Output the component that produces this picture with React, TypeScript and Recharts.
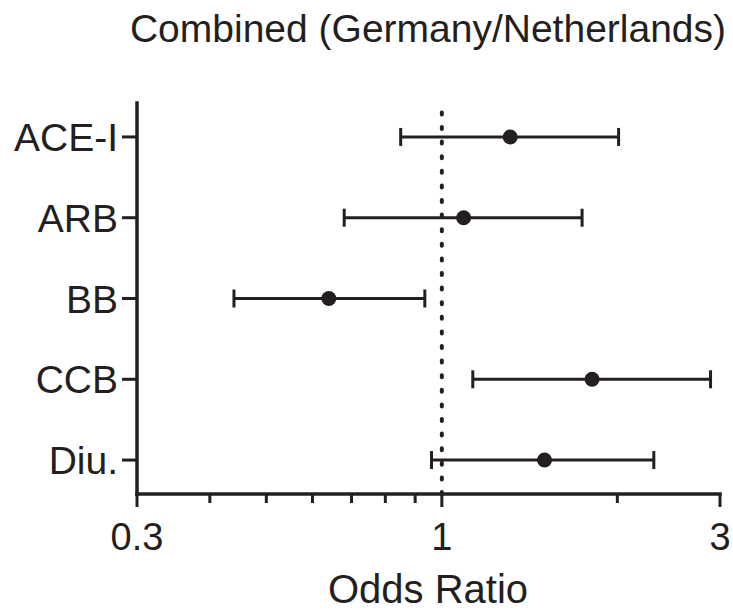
import React from 'react';
import { ScatterChart, Scatter, XAxis, YAxis, ErrorBar, ReferenceLine, Customized } from 'recharts';

const categories = ['ACE-I', 'ARB', 'BB', 'CCB', 'Diu.'];
const oddsRatio = [1.31, 1.09, 0.64, 1.81, 1.5];
const ciLower = [0.85, 0.68, 0.44, 1.13, 0.96];
const ciUpper = [2.01, 1.74, 0.935, 2.89, 2.31];
const xTicks = [0.3, 0.4, 0.5, 0.6, 0.7, 0.8, 0.9, 1, 2, 3];
const xMajorTicks = [0.3, 1, 3];
const xTickLabels = ['0.3', '1', '3'];
const title = 'Combined (Germany/Netherlands)';
const xTitle = 'Odds Ratio';

const INK = '#231f20';
const FONT = '"Liberation Sans", Arial, sans-serif';

const data = categories.map((c, i) => ({
  y: i,
  x: oddsRatio[i],
  err: [oddsRatio[i] - ciLower[i], ciUpper[i] - oddsRatio[i]],
}));

const XTick = (props: any) => {
  const { x, y, payload } = props;
  const v = payload.value;
  const mi = xMajorTicks.indexOf(v);
  const major = mi >= 0;
  return (
    <g>
      <line x1={x} x2={x} y1={y} y2={y + (major ? 13 : 9)} stroke={INK} strokeWidth={3} />
      {major && (
        <text x={x} y={y + 56} textAnchor="middle" fontFamily={FONT} fontSize={38} fill={INK}>
          {xTickLabels[mi]}
        </text>
      )}
    </g>
  );
};

const YTick = (props: any) => {
  const { x, y, payload } = props;
  return (
    <g>
      <line x1={x - 15} x2={x} y1={y} y2={y} stroke={INK} strokeWidth={3} />
      <text x={x - 19} y={y + 14} textAnchor="end" fontFamily={FONT} fontSize={39} fill={INK}>
        {categories[payload.value]}
      </text>
    </g>
  );
};

const Titles = () => (
  <g>
    <text x={428} y={42} textAnchor="middle" fontFamily={FONT} fontSize={39} fill={INK}>
      {title}
    </text>
    <text x={428} y={603} textAnchor="middle" fontFamily={FONT} fontSize={40} fill={INK}>
      {xTitle}
    </text>
  </g>
);

export default function App() {
  return (
    <div style={{ position: 'absolute', left: 0, top: 0, background: '#fff' }}>
      <ScatterChart width={733} height={610} margin={{ top: 103, right: 13, bottom: 0, left: 0 }}>
        <XAxis
          type="number"
          dataKey="x"
          scale="log"
          domain={[0.3, 3]}
          ticks={xTicks}
          allowDataOverflow
          height={116}
          tickSize={0}
          tickMargin={0}
          tick={<XTick />}
          axisLine={{ stroke: INK, strokeWidth: 3.5, strokeLinecap: 'square' }}
          interval={0}
        />
        <YAxis
          type="number"
          dataKey="y"
          domain={[-0.42, 4.42]}
          ticks={[0, 1, 2, 3, 4]}
          reversed
          width={137}
          tickSize={0}
          tickMargin={0}
          tick={<YTick />}
          axisLine={{ stroke: INK, strokeWidth: 3.5, strokeLinecap: 'square' }}
          interval={0}
        />
        <ReferenceLine
          x={1}
          stroke={INK}
          strokeWidth={4}
          strokeDasharray="2 12.6"
          strokeLinecap="round"
        />
        <Scatter
          data={data}
          fill={INK}
          isAnimationActive={false}
          shape={(p: any) => <circle cx={p.cx} cy={p.cy} r={7.5} fill={INK} />}
        >
          <ErrorBar dataKey="err" direction="x" width={9} stroke={INK} strokeWidth={3} isAnimationActive={false} />
        </Scatter>
        <Customized component={Titles} />
      </ScatterChart>
    </div>
  );
}
